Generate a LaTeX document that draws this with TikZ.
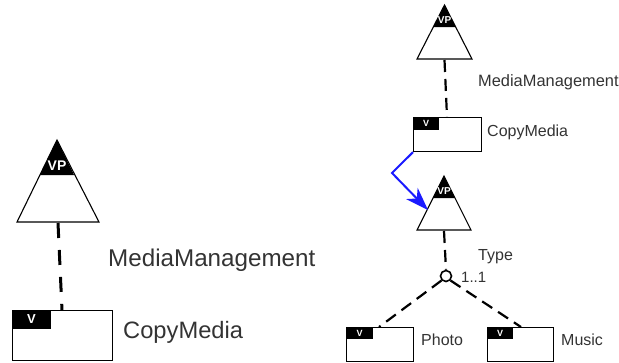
\documentclass[tikz,border=0pt]{standalone}
\usepackage{fontspec}
\setmainfont{Liberation Sans}
\usetikzlibrary{arrows.meta}
\definecolor{txt}{HTML}{333333}
\definecolor{arrowblue}{HTML}{1A1AFF}
\tikzset{
  lbl/.style={anchor=base west, inner sep=0pt, text=txt},
  tag/.style={inner sep=0pt, text=white, font=\bfseries},
  boxline/.style={draw=black, line width=1.1bp},
  dashbig/.style={line width=3bp, dash pattern=on 15bp off 12bp, black},
  dashsmall/.style={line width=2.2bp, dash pattern=on 12bp off 7bp, black},
}
\begin{document}
\begin{tikzpicture}[x=1bp,y=-1bp]
\useasboundingbox (0,0) rectangle (619,362);
% ---------- left ----------
\fill[white] (57,140) -- (17,222) -- (99,222) -- cycle;
\fill[black] (57,140) -- (39.9,175) -- (74.1,175) -- cycle;
\draw[boxline] (57,140) -- (17,222) -- (99,222) -- cycle;
\node[tag, font=\bfseries\fontsize{14bp}{16bp}\selectfont] (vpL) at (57,166) {VP};
\coordinate (vpLb) at (58,223);
\node[boxline, minimum width=100bp, minimum height=50bp, inner sep=0pt, anchor=north west] (cmL) at (12,310) {};
\fill[black] (cmL.north west) rectangle (51,329);
\node[tag, font=\bfseries\fontsize{13bp}{15bp}\selectfont] (vL) at (31.5,319.5) {V};
\coordinate (cmLt) at (62,310);
\draw[dashbig] (vpLb) -- (cmLt);
\node[lbl, font=\fontsize{24.2bp}{28bp}\selectfont] (mmL) at (108,266.5) {MediaManagement};
\node[lbl, font=\fontsize{23.7bp}{28bp}\selectfont] (cpL) at (123,338.5) {CopyMedia};
% ---------- right top ----------
\fill[black] (444.5,5) -- (433.3,27) -- (455.7,27) -- cycle;
\draw[boxline] (444.5,5) -- (417,59) -- (472,59) -- cycle;
\node[tag, font=\bfseries\fontsize{10bp}{12bp}\selectfont] (vp1) at (444.5,20.5) {VP};
\coordinate (vp1b) at (444.5,60);
\node[boxline, minimum width=68bp, minimum height=34bp, inner sep=0pt, anchor=north west] (cm1) at (413,117) {};
\fill[black] (cm1.north west) rectangle (439,130);
\node[tag, font=\bfseries\fontsize{9bp}{11bp}\selectfont] (v1) at (426,123.5) {V};
\coordinate (cm1t) at (447,117);
\draw[dashsmall] (vp1b) -- (cm1t);
\node[lbl, font=\fontsize{16.4bp}{19bp}\selectfont] (mm1) at (478,86) {MediaManagement};
\node[lbl, font=\fontsize{16bp}{19bp}\selectfont] (cp1) at (487,136) {CopyMedia};
% ---------- type vp ----------
\fill[black] (444,176) -- (432.8,198) -- (455.2,198) -- cycle;
\draw[boxline] (444,176) -- (417,230) -- (471,230) -- cycle;
\node[tag, font=\bfseries\fontsize{10bp}{12bp}\selectfont] (vp2) at (444,191.5) {VP};
\coordinate (vp2b) at (444,231);
\coordinate (vp2l) at (428,210);
\coordinate (bend) at (392,173);
\draw[arrowblue, line width=2bp, -{Stealth[length=23bp, width=16bp, inset=7bp]}] (cm1.south west) -- (bend) -- (vp2l);
\node[lbl, font=\fontsize{16bp}{19bp}\selectfont] (type) at (478,260) {Type};
% group circle
\node[circle, draw=black, line width=1.6bp, minimum size=11bp, inner sep=0pt] (grp) at (446,276) {};
\draw[dashsmall] (vp2b) -- (grp.north);
\node[lbl, font=\fontsize{15bp}{18bp}\selectfont] (card) at (461,282) {1..1};
% ---------- variants ----------
\node[boxline, minimum width=67bp, minimum height=34bp, inner sep=0pt, anchor=north west] (ph) at (346,327) {};
\fill[black] (ph.north west) rectangle (373,339);
\node[tag, font=\bfseries\fontsize{9bp}{11bp}\selectfont] (vph) at (359.5,333) {V};
\node[lbl, font=\fontsize{16bp}{19bp}\selectfont] (phl) at (421,345) {Photo};
\node[boxline, minimum width=66bp, minimum height=34bp, inner sep=0pt, anchor=north west] (mu) at (487,327) {};
\fill[black] (mu.north west) rectangle (513,339);
\node[tag, font=\bfseries\fontsize{9bp}{11bp}\selectfont] (vmu) at (500,333) {V};
\node[lbl, font=\fontsize{16bp}{19bp}\selectfont] (mul) at (561,345) {Music};
\coordinate (pht) at (379,327);
\coordinate (mut) at (521,327);
\draw[dashsmall] (grp.south west) -- (pht);
\draw[dashsmall] (grp.south east) -- (mut);
\end{tikzpicture}
\end{document}
